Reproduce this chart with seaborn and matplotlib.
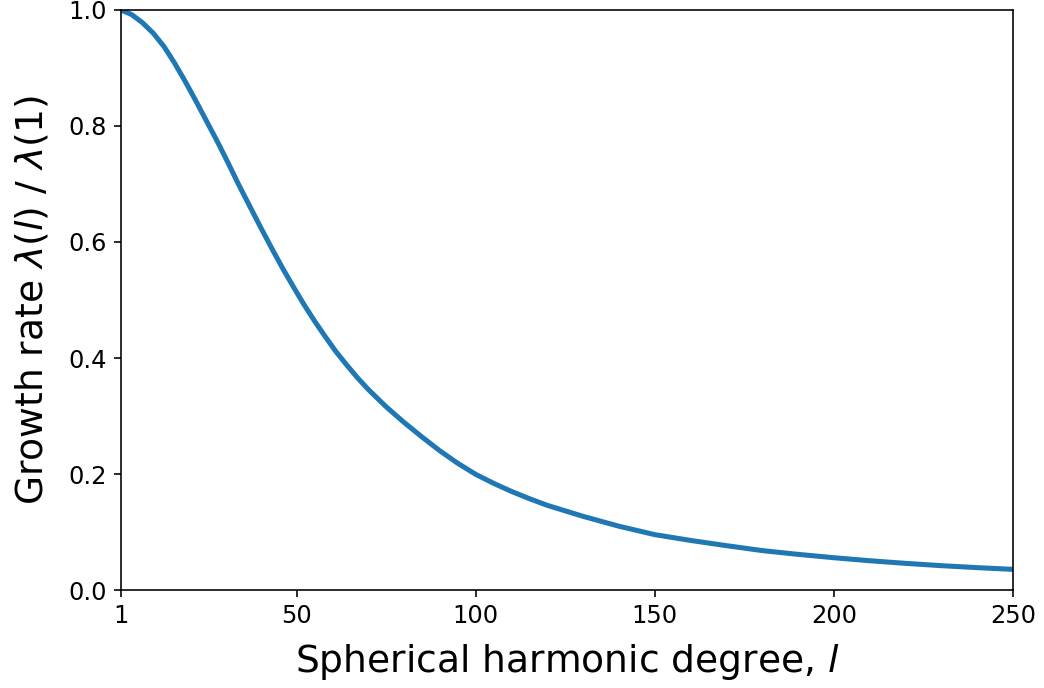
#!/usr/bin/env python3

import pandas as pd
import matplotlib
matplotlib.use("Agg")
import matplotlib.pyplot as plt
import seaborn as sns

# values
degree = [1, 4, 7, 10, 13, 16, 19, 22, 25, 28, 31, 34, 37, 40, 43, 46, 49,
          52, 55, 58, 61, 64, 67, 70, 75, 80, 85, 90, 95, 100, 105, 110, 115,
          120, 130, 140, 150, 160, 170, 180, 190, 200, 210, 220, 230, 240,
          250]
growth = [1.0, 0.992, 0.978, 0.960, 0.937, 0.908, 0.876, 0.842, 0.807,
          0.772, 0.735, 0.697, 0.661, 0.625, 0.590, 0.556, 0.524, 0.493,
          0.464, 0.437, 0.411, 0.388, 0.366, 0.346, 0.316, 0.289, 0.264,
          0.240, 0.2185, 0.1995, 0.184, 0.170, 0.1575, 0.146, 0.127, 0.110,
          0.0955, 0.0855, 0.0765, 0.068, 0.0615, 0.0557, 0.0505, 0.046,
          0.042, 0.0386, 0.0356]
xticks = [1, 50, 100, 150, 200, 250]
yticks = [0.0, 0.2, 0.4, 0.6, 0.8, 1.0]

df = pd.DataFrame({"l": degree, "rate": growth})

DPI = 145
fig = plt.figure(figsize=(1044 / DPI, 688 / DPI), dpi=DPI)
ax = fig.add_axes([0.1159, 0.1424, 0.9703 - 0.1159, 0.9855 - 0.1424])

sns.lineplot(df, x="l", y="rate", ax=ax, color="#1f77b4", linewidth=2.5)

ax.set_xlim(1, 250)
ax.set_ylim(0, 1)
ax.set_xticks(xticks)
ax.set_yticks(yticks)
ax.tick_params(labelsize=12)
ax.set_xlabel("Spherical harmonic degree, $l$", fontsize=18.7, labelpad=7)
ax.set_ylabel(r"Growth rate $\lambda(l)$ / $\lambda(1)$", fontsize=18.7,
              labelpad=9)

fig.savefig("out.png", dpi=DPI)
